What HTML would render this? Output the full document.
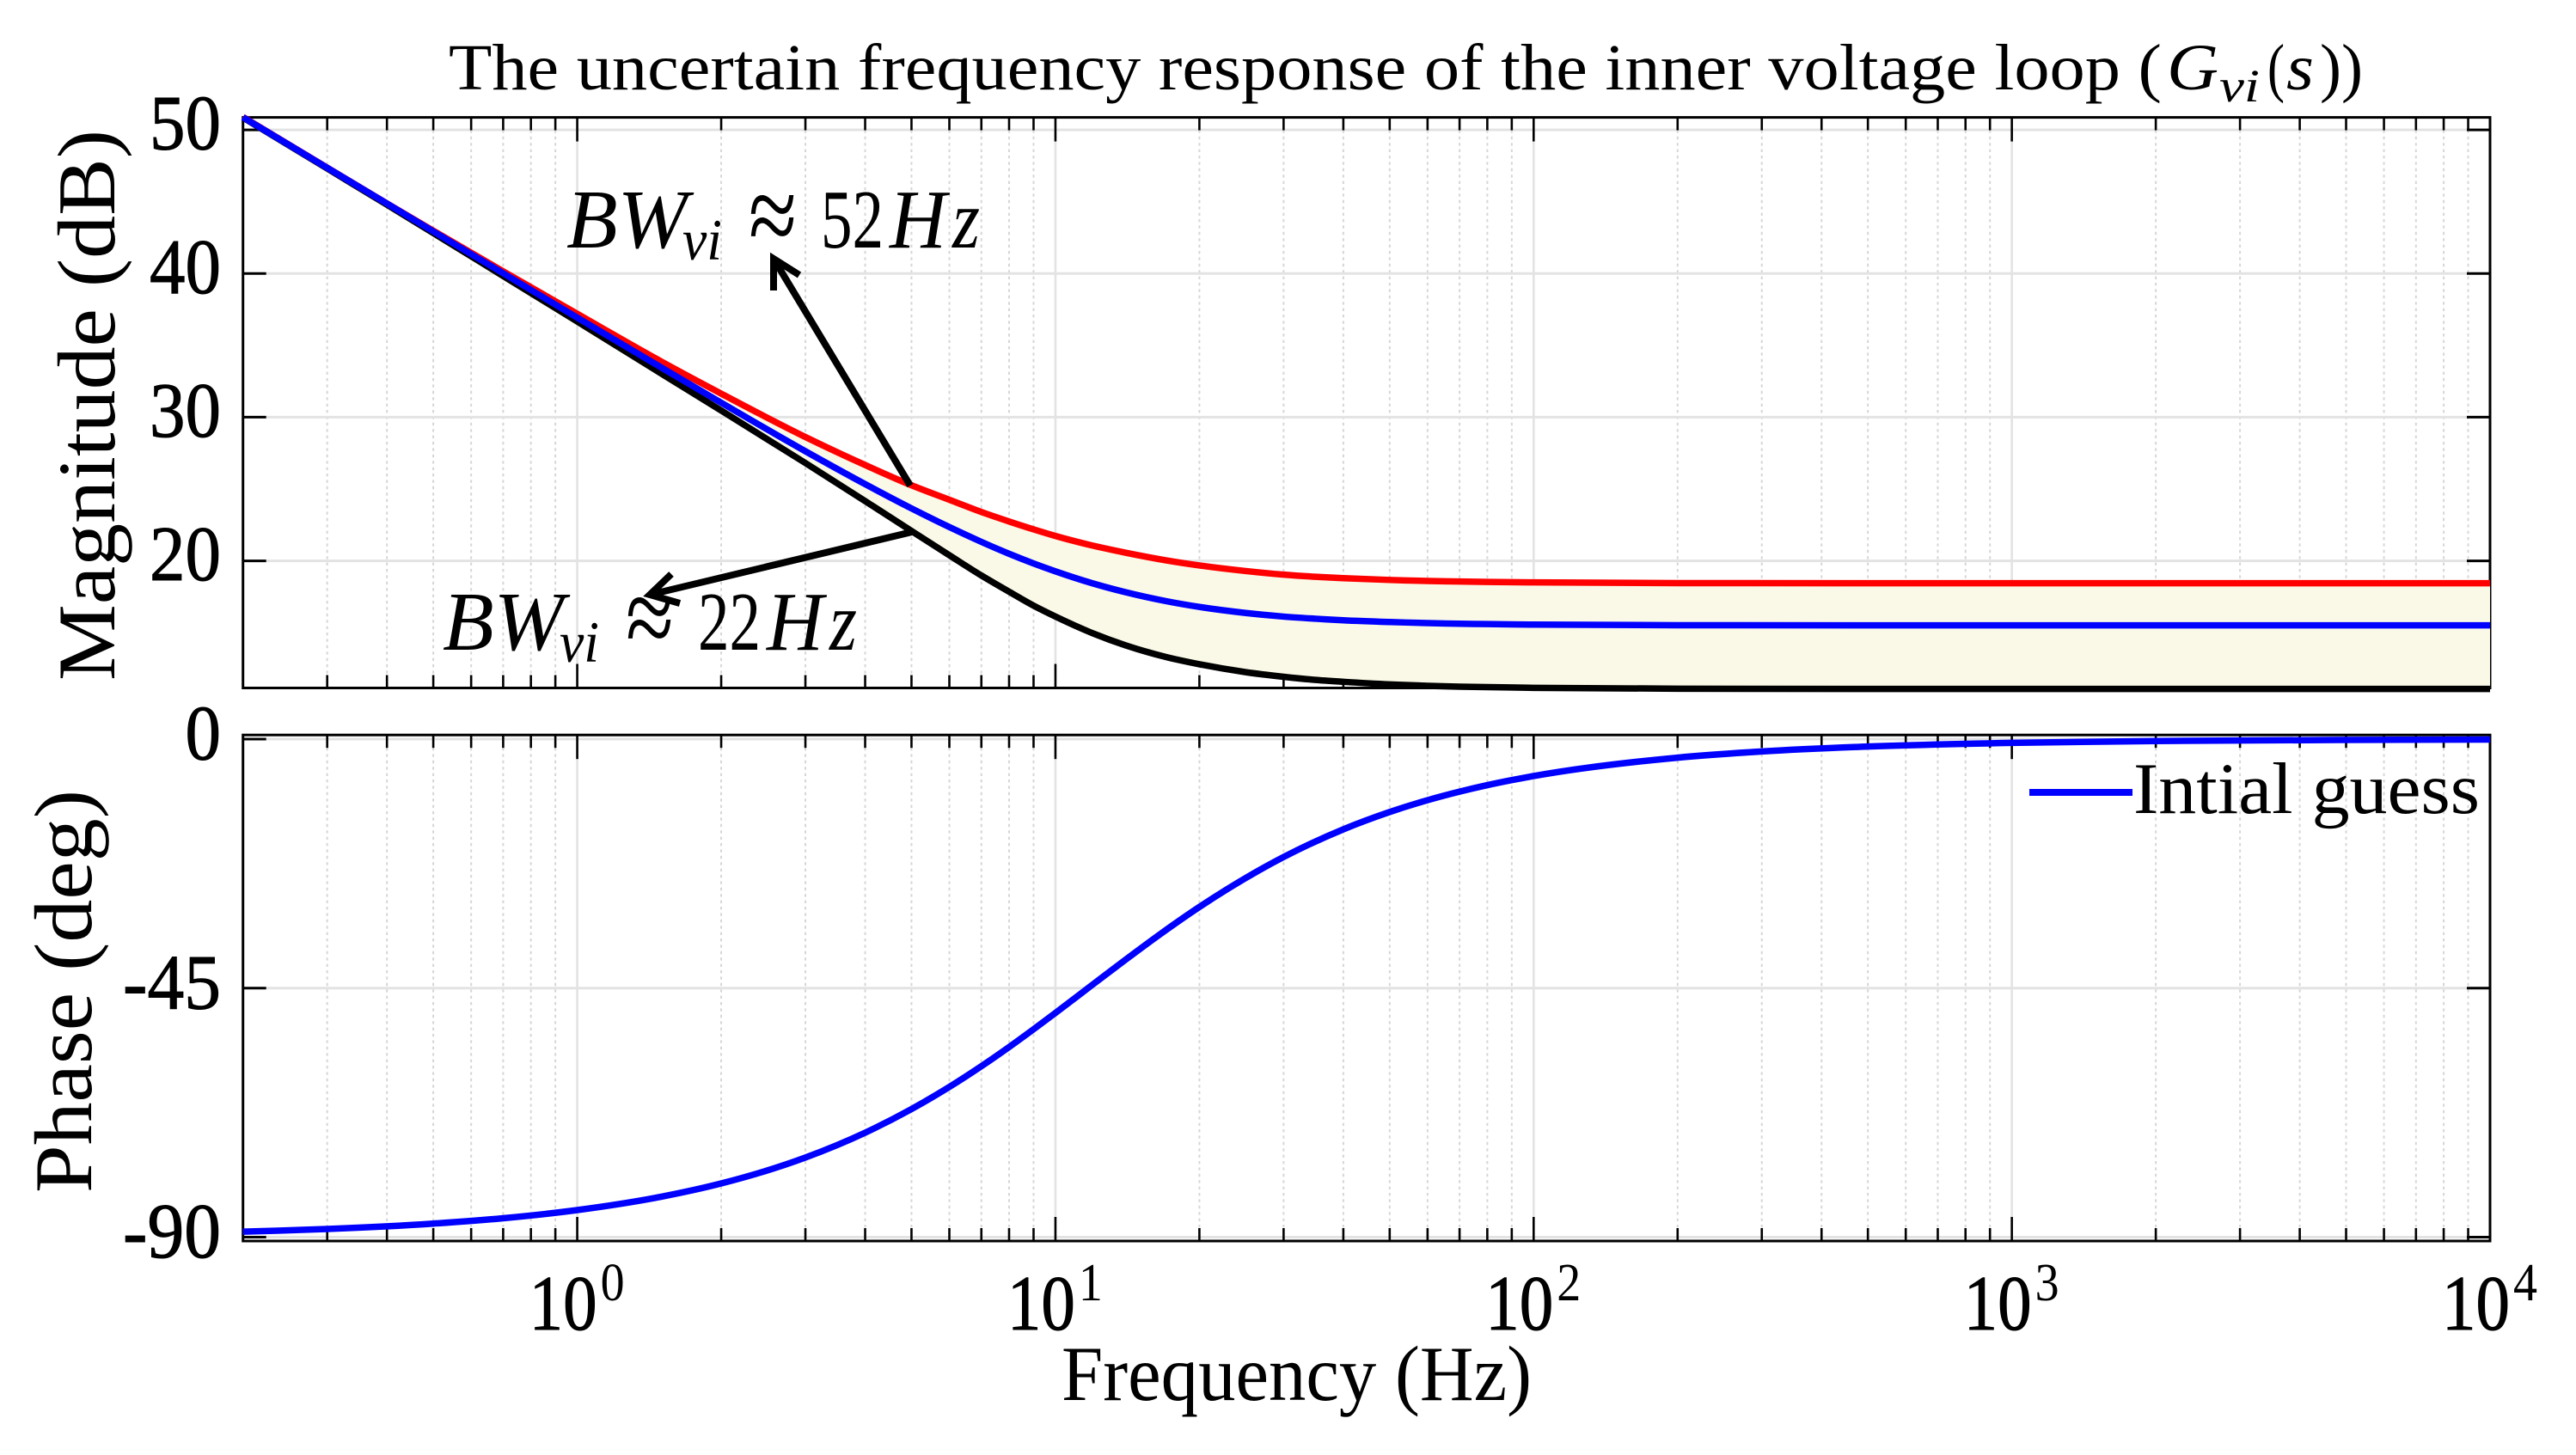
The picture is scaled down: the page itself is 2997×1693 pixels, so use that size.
<!DOCTYPE html>
<html lang="en">
<head>
<meta charset="utf-8">
<title>Uncertain frequency response of the inner voltage loop</title>
<style>
html,body{margin:0;padding:0;background:#fff;}
svg{display:block;}
text{font-family:"Liberation Serif","DejaVu Serif",serif;fill:#000;}
.math{font-style:italic;}
</style>
</head>
<body>
<svg id="chart" xmlns="http://www.w3.org/2000/svg" width="2997" height="1693" viewBox="0 0 2997 1693">
  <rect x="0" y="0" width="2997" height="1693" fill="#ffffff"/>
  <g id="mag-under"></g>
  <g id="phase-under"></g>
  <g id="series"></g>
  <g id="tick-labels"></g>

  <g>
    <text x="522" y="104" font-size="76" textLength="1993" lengthAdjust="spacingAndGlyphs">The uncertain frequency response of the inner voltage loop (</text>
    <text class="math" x="2521" y="104" font-size="76" textLength="60" lengthAdjust="spacingAndGlyphs">G</text>
    <text class="math" x="2582" y="118" font-size="54" textLength="47" lengthAdjust="spacingAndGlyphs">vi</text>
    <text x="2638" y="104" font-size="76" textLength="20" lengthAdjust="spacingAndGlyphs">(</text>
    <text class="math" x="2660" y="104" font-size="76" textLength="32" lengthAdjust="spacingAndGlyphs">s</text>
    <text x="2699" y="104" font-size="76" textLength="50" lengthAdjust="spacingAndGlyphs">))</text>
  </g>

  <text transform="translate(133,792) rotate(-90)" x="0" y="0" font-size="95" textLength="641" lengthAdjust="spacingAndGlyphs">Magnitude (dB)</text>
  <text transform="translate(106,1388) rotate(-90)" x="0" y="0" font-size="95" textLength="469" lengthAdjust="spacingAndGlyphs">Phase (deg)</text>
  <text x="1235" y="1629" font-size="91" textLength="547" lengthAdjust="spacingAndGlyphs">Frequency (Hz)</text>

  <g>
    <line x1="2361" y1="922" x2="2481" y2="922" stroke="#0000ff" stroke-width="8"/>
    <text x="2482" y="946" font-size="85" textLength="403" lengthAdjust="spacingAndGlyphs">Intial guess</text>
  </g>

  <g>
    <text class="math" x="659" y="288" font-size="98" textLength="141" lengthAdjust="spacingAndGlyphs">BW</text>
    <text class="math" x="794" y="302" font-size="68" textLength="46" lengthAdjust="spacingAndGlyphs">vi</text>
    <text x="871" y="294" font-size="130" textLength="56" lengthAdjust="spacingAndGlyphs">≈</text>
    <text x="955" y="288" font-size="98" textLength="73" lengthAdjust="spacingAndGlyphs">52</text>
    <text class="math" x="1035" y="288" font-size="98" textLength="66" lengthAdjust="spacingAndGlyphs">H</text>
    <text class="math" x="1108" y="288" font-size="98" textLength="32" lengthAdjust="spacingAndGlyphs">z</text>
    <path d="M1059 565 L900 301 M900 338 L900 301 L930 320" fill="none" stroke="#000" stroke-width="8"/>
  </g>
  <g>
    <text class="math" x="515" y="756" font-size="98" textLength="141" lengthAdjust="spacingAndGlyphs">BW</text>
    <text class="math" x="651" y="770" font-size="68" textLength="46" lengthAdjust="spacingAndGlyphs">vi</text>
    <text x="728" y="762" font-size="130" textLength="56" lengthAdjust="spacingAndGlyphs">≈</text>
    <text x="812" y="756" font-size="98" textLength="73" lengthAdjust="spacingAndGlyphs">22</text>
    <text class="math" x="892" y="756" font-size="98" textLength="66" lengthAdjust="spacingAndGlyphs">H</text>
    <text class="math" x="965" y="756" font-size="98" textLength="32" lengthAdjust="spacingAndGlyphs">z</text>
    <path d="M1061 619 L756 692 M781 668 L756 692 L791 702" fill="none" stroke="#000" stroke-width="8"/>
  </g>
</svg>

<script>
// ---- chart values ----
var magFreqHz = [0.2,0.3,0.4,0.5,0.7,1,1.5,2,3,4,5,6,7,8,9,10,12,14,17,20,25,30,35,40,50,60,70,80,100,200,500,1000,10000];
var upperMagDb = [50.90,47.37,44.88,42.98,40.15,37.20,33.87,31.64,28.62,26.67,25.26,24.25,23.40,22.74,22.19,21.73,21.05,20.57,20.04,19.68,19.29,19.04,18.89,18.79,18.67,18.60,18.56,18.53,18.50,18.45,18.44,18.44,18.44];
var nominalMagDb = [50.88,47.36,44.87,42.93,40.02,36.93,33.45,31.01,27.63,25.34,23.65,22.35,21.32,20.49,19.82,19.27,18.42,17.82,17.20,16.79,16.37,16.12,15.97,15.86,15.74,15.67,15.62,15.60,15.56,15.52,15.51,15.51,15.51];
var lowerMagDb = [50.86,47.31,44.79,42.82,39.83,36.66,33.03,30.46,26.81,24.16,22.08,20.39,18.98,17.85,16.88,16.12,14.94,14.12,13.31,12.80,12.25,11.93,11.71,11.58,11.40,11.30,11.24,11.21,11.16,11.10,11.08,11.08,11.08];
var phaseFreqHz = [0.2,0.3,0.5,0.7,1,1.5,2,3,4,5,6,7,8,9,10,12,14,16.6,20,30,40,50,60,70,80,90,100,200,300,500,1000,2000,10000];
var phaseDeg = [-89.02,-88.53,-87.55,-86.58,-85.11,-82.69,-80.30,-75.62,-71.13,-66.86,-62.85,-59.11,-55.64,-52.43,-49.48,-44.27,-39.89,-35.18,-30.33,-21.31,-16.30,-13.17,-11.03,-9.49,-8.32,-7.41,-6.67,-3.35,-2.23,-1.34,-0.67,-0.34,-0.07];
var decadeTicks = [1,10,100,1000,10000];
var decadeExponents = ["0","1","2","3","4"];
var minorTicks = [0.3,0.4,0.5,0.6,0.7,0.8,0.9,2,3,4,5,6,7,8,9,20,30,40,50,60,70,80,90,200,300,400,500,600,700,800,900,2000,3000,4000,5000,6000,7000,8000,9000];
var magTicks = [50,40,30,20];
var magTickLabels = ["50","40","30","20"];
var phaseTicks = [0,-45,-90];
var phaseTickLabels = ["0","-45","-90"];
var fillStartHz = 2;

// ---- axis functions ----
var LEFT = 282.7, RIGHT = 2897;
var MAG_TOP = 136.6, MAG_BOTTOM = 800.5, PHASE_TOP = 855.2, PHASE_BOTTOM = 1444;
var fMin = 0.2, fMax = 10000, magMin = 11.15, magMax = 50.87, phaseMin = -90.7, phaseMax = 0.75;
function xOf(f) {
  return LEFT + (Math.log10(f) - Math.log10(fMin)) / (Math.log10(fMax) - Math.log10(fMin)) * (RIGHT - LEFT);
}
function yMag(d) {
  return MAG_BOTTOM - (d - magMin) / (magMax - magMin) * (MAG_BOTTOM - MAG_TOP);
}
function yPhase(p) {
  return PHASE_BOTTOM - (p - phaseMin) / (phaseMax - phaseMin) * (PHASE_BOTTOM - PHASE_TOP);
}

var SVGNS = "http://www.w3.org/2000/svg";
function make(parent, tag, attrs) {
  var el = document.createElementNS(SVGNS, tag);
  for (var k in attrs) el.setAttribute(k, attrs[k]);
  parent.appendChild(el);
  return el;
}

// smooth path through points using monotone cubic tangents
function smoothPath(xs, ys) {
  var n = xs.length, m = [], s = [], i;
  for (i = 0; i < n - 1; i++) s.push((ys[i + 1] - ys[i]) / (xs[i + 1] - xs[i]));
  m.push(s[0]);
  for (i = 1; i < n - 1; i++) {
    var h0 = xs[i] - xs[i - 1], h1 = xs[i + 1] - xs[i];
    m.push(s[i - 1] * s[i] <= 0 ? 0 : (s[i - 1] * h1 + s[i] * h0) / (h0 + h1));
  }
  m.push(s[n - 2]);
  var d = "M" + xs[0].toFixed(2) + " " + ys[0].toFixed(2);
  for (i = 0; i < n - 1; i++) {
    var h = (xs[i + 1] - xs[i]) / 3;
    d += " C" + (xs[i] + h).toFixed(2) + " " + (ys[i] + m[i] * h).toFixed(2) + " " +
         (xs[i + 1] - h).toFixed(2) + " " + (ys[i + 1] - m[i + 1] * h).toFixed(2) + " " +
         xs[i + 1].toFixed(2) + " " + ys[i + 1].toFixed(2);
  }
  return d;
}

function drawAxes(group, top, bottom, yTicks, yFn, prefix) {
  minorTicks.forEach(function (f) {
    var x = xOf(f);
    var g = make(group, "line", {x1: x, x2: x, y1: top, y2: bottom, stroke: "#d6d6d6", "stroke-width": 2, "stroke-dasharray": "3.4 4"});
    
    
  });
  decadeTicks.forEach(function (f) {
    var x = xOf(f);
    var g = make(group, "line", {x1: x, x2: x, y1: top, y2: bottom, stroke: "#e3e3e3", "stroke-width": 2.6});
    
    
  });
  yTicks.forEach(function (v) {
    var y = yFn(v);
    var g = make(group, "line", {x1: LEFT, x2: RIGHT, y1: y, y2: y, stroke: "#e3e3e3", "stroke-width": 3});
    
    
    var tl = make(group, "line", {x1: LEFT, x2: LEFT + 27, y1: y, y2: y, stroke: "#000", "stroke-width": 3});
    
    
    var tr = make(group, "line", {x1: RIGHT - 27, x2: RIGHT, y1: y, y2: y, stroke: "#000", "stroke-width": 3});
    
    
  });
  minorTicks.forEach(function (f) {
    var x = xOf(f);
    var a = make(group, "line", {x1: x, x2: x, y1: top, y2: top + 15, stroke: "#000", "stroke-width": 2.6});
    
    
    var b = make(group, "line", {x1: x, x2: x, y1: bottom - 15, y2: bottom, stroke: "#000", "stroke-width": 2.6});
    
    
  });
  decadeTicks.forEach(function (f) {
    var x = xOf(f);
    var a = make(group, "line", {x1: x, x2: x, y1: top, y2: top + 28, stroke: "#000", "stroke-width": 2.6});
    
    
    var b = make(group, "line", {x1: x, x2: x, y1: bottom - 28, y2: bottom, stroke: "#000", "stroke-width": 2.6});
    
    
  });
  var box = make(group, "rect", {x: LEFT, y: top, width: RIGHT - LEFT, height: bottom - top, fill: "none", stroke: "#000", "stroke-width": 3});
  
  
}

drawAxes(document.getElementById("mag-under"), MAG_TOP, MAG_BOTTOM, magTicks, yMag, "magnitude");
drawAxes(document.getElementById("phase-under"), PHASE_TOP, PHASE_BOTTOM, phaseTicks, yPhase, "phase");

// ---- series ----
var seriesLayer = document.getElementById("series");
var magXs = magFreqHz.map(xOf);

// uncertainty band between upper and lower responses
var bandTop = [], bandBottom = [];
magFreqHz.forEach(function (f, i) {
  if (f >= fillStartHz) {
    bandTop.push(magXs[i].toFixed(2) + "," + yMag(upperMagDb[i]).toFixed(2));
    bandBottom.unshift(magXs[i].toFixed(2) + "," + yMag(lowerMagDb[i]).toFixed(2));
  }
});
var band = make(seriesLayer, "polygon", {points: bandTop.concat(bandBottom).join(" "), fill: "#faf9e7"});



var lowerLine = make(seriesLayer, "path", {d: smoothPath(magXs, lowerMagDb.map(yMag)), fill: "none", stroke: "#000000", "stroke-width": 7.5});



var upperLine = make(seriesLayer, "path", {d: smoothPath(magXs, upperMagDb.map(yMag)), fill: "none", stroke: "#ff0000", "stroke-width": 7.5});



var nominalLine = make(seriesLayer, "path", {d: smoothPath(magXs, nominalMagDb.map(yMag)), fill: "none", stroke: "#0000ff", "stroke-width": 7.5});



var phaseLine = make(seriesLayer, "path", {d: smoothPath(phaseFreqHz.map(xOf), phaseDeg.map(yPhase)), fill: "none", stroke: "#0000ff", "stroke-width": 7.5});



// ---- tick labels ----
var labels = document.getElementById("tick-labels");
function labelWidth(s) {
  return s.replace("-", "").length * 41.5 + (s.charAt(0) === "-" ? 31 : 0);
}
magTicks.forEach(function (v, i) {
  var t = make(labels, "text", {x: 257, y: yMag(v) + 22.5, "font-size": 91, "text-anchor": "end", textLength: labelWidth(magTickLabels[i]), lengthAdjust: "spacingAndGlyphs", stroke: "#000", "stroke-width": 1});
  t.textContent = magTickLabels[i];
  
  
});
phaseTicks.forEach(function (v, i) {
  var t = make(labels, "text", {x: 257, y: yPhase(v) + 23.5, "font-size": 91, "text-anchor": "end", textLength: labelWidth(phaseTickLabels[i]), lengthAdjust: "spacingAndGlyphs", stroke: "#000", "stroke-width": 1});
  t.textContent = phaseTickLabels[i];
  
  
});
decadeTicks.forEach(function (f, i) {
  var x = xOf(f);
  var base = make(labels, "text", {x: x - 56, y: 1547, "font-size": 91, textLength: 79, lengthAdjust: "spacingAndGlyphs", stroke: "#000", "stroke-width": 1});
  base.textContent = "10";
  
  
  var sup = make(labels, "text", {x: x + 27, y: 1513, "font-size": 62, textLength: 28, lengthAdjust: "spacingAndGlyphs"});
  sup.textContent = decadeExponents[i];
  
  
});
</script>
</body>
</html>
